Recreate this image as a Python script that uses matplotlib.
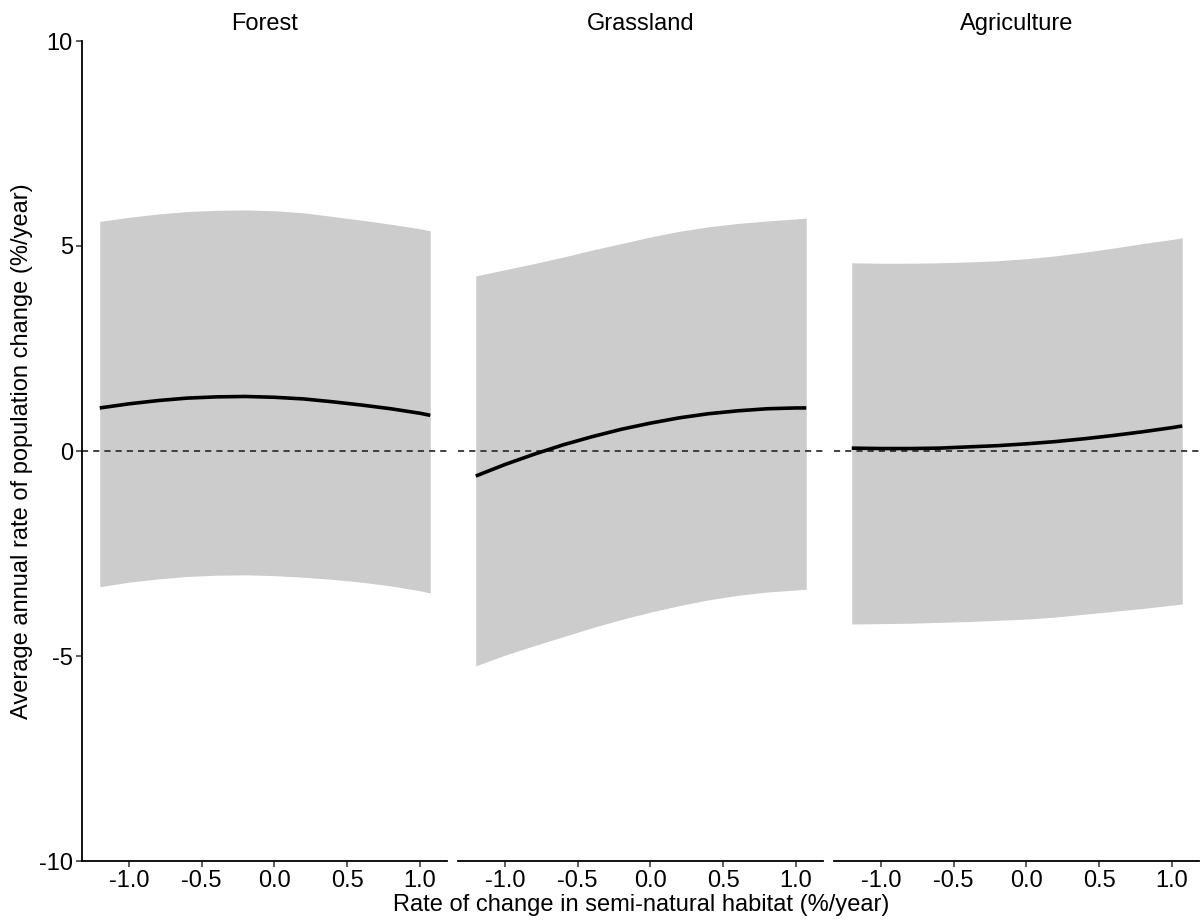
import matplotlib
matplotlib.use("Agg")
import matplotlib.pyplot as plt
import numpy as np

plt.rcParams['font.family'] = ['Liberation Sans', 'DejaVu Sans']

panels = ["Forest", "Grassland", "Agriculture"]
x_vals = [-1.2, -1.0, -0.8, -0.6, -0.4, -0.2, 0.0, 0.2, 0.4, 0.6, 0.8, 1.0, 1.07]

forest_fit = [1.05, 1.15, 1.23, 1.29, 1.32, 1.33, 1.31, 1.27, 1.20, 1.12, 1.03, 0.92, 0.87]
forest_upper = [5.60, 5.70, 5.78, 5.84, 5.87, 5.88, 5.86, 5.81, 5.72, 5.63, 5.53, 5.42, 5.37]
forest_lower = [-3.31, -3.20, -3.12, -3.06, -3.03, -3.02, -3.04, -3.08, -3.13, -3.20, -3.29, -3.41, -3.46]

grass_fit = [-0.61, -0.33, -0.08, 0.15, 0.35, 0.53, 0.68, 0.81, 0.91, 0.98, 1.03, 1.05, 1.05]
grass_upper = [4.27, 4.42, 4.57, 4.73, 4.90, 5.06, 5.22, 5.36, 5.47, 5.55, 5.61, 5.66, 5.68]
grass_lower = [-5.24, -4.98, -4.75, -4.53, -4.31, -4.11, -3.93, -3.77, -3.63, -3.52, -3.44, -3.39, -3.37]

agri_fit = [0.07, 0.06, 0.06, 0.07, 0.10, 0.13, 0.175, 0.23, 0.30, 0.38, 0.47, 0.57, 0.61]
agri_upper = [4.59, 4.58, 4.58, 4.59, 4.61, 4.64, 4.69, 4.76, 4.85, 4.95, 5.06, 5.16, 5.20]
agri_lower = [-4.22, -4.21, -4.20, -4.18, -4.16, -4.13, -4.10, -4.05, -3.98, -3.91, -3.84, -3.76, -3.73]

fits = [forest_fit, grass_fit, agri_fit]
uppers = [forest_upper, grass_upper, agri_upper]
lowers = [forest_lower, grass_lower, agri_lower]

x_ticks = [-1.0, -0.5, 0.0, 0.5, 1.0]
x_ticklabels = ["-1.0", "-0.5", "0.0", "0.5", "1.0"]
y_ticks = [-10, -5, 0, 5, 10]
y_ticklabels = ["-10", "-5", "0", "5", "10"]

W, H = 1200, 922
fig = plt.figure(figsize=(12, 9.22), dpi=100)

lefts = [82, 458, 834]
pw = 365
bottom_px, top_px = 861, 41
fs = 17

for i, name in enumerate(panels):
    ax = fig.add_axes([lefts[i] / W, (H - bottom_px) / H, pw / W, (bottom_px - top_px) / H])
    ax.fill_between(x_vals, lowers[i], uppers[i], color="#cccccc", linewidth=0, zorder=1)
    ax.plot(x_vals, fits[i], color="black", linewidth=2.6, zorder=3, solid_capstyle="butt")
    ax.axhline(0, color="#333333", linestyle=(0, (3.4, 2.8)), linewidth=1.3, zorder=2)
    ax.set_xlim(-1.322, 1.185)
    ax.set_ylim(-10, 10)
    ax.set_xticks(x_ticks)
    ax.set_xticklabels(x_ticklabels)
    for s in ["top", "right"]:
        ax.spines[s].set_visible(False)
    ax.spines["bottom"].set_linewidth(1.3)
    ax.spines["left"].set_linewidth(1.3)
    ax.tick_params(axis="both", labelsize=fs, length=4, width=1.1, color="#333333",
                   labelcolor="black", pad=2.5)
    if i == 0:
        ax.set_yticks(y_ticks)
        ax.set_yticklabels(y_ticklabels)
    else:
        ax.spines["left"].set_visible(False)
        ax.set_yticks([])
    ax.set_title(name, fontsize=fs, pad=8)
    ax.patch.set_alpha(0)

fig.text(641 / W, 1 - 905 / H, "Rate of change in semi-natural habitat (%/year)",
         ha="center", va="center", fontsize=fs)
fig.text(22 / W, 1 - 451 / H, "Average annual rate of population change (%/year)",
         ha="center", va="center", rotation=90, fontsize=fs)

fig.savefig("out.png", dpi=100)
